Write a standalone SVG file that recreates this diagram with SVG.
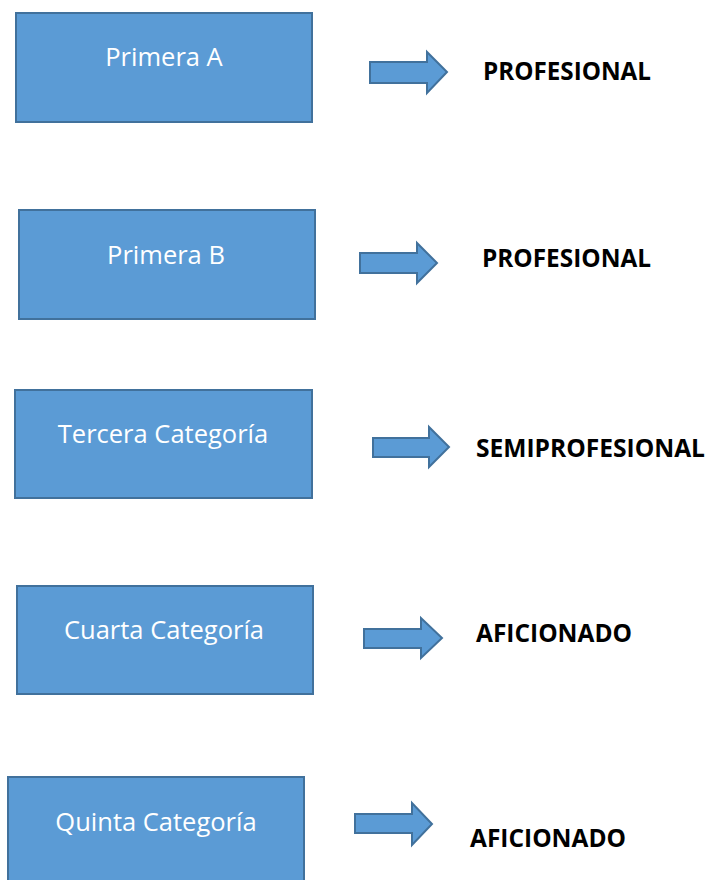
<svg xmlns="http://www.w3.org/2000/svg" width="711" height="880" viewBox="0 0 711 880">
<defs>
<style>
.box{fill:#5b9bd5;stroke:#41719c;stroke-width:2}
.arr{fill:#5b9bd5;stroke:#41719c;stroke-width:2;stroke-linejoin:miter}
.bt{font-family:"Open Sans","Liberation Sans",sans-serif;font-size:25.5px;fill:#ffffff;text-anchor:middle}
.lb{font-family:"Open Sans","Liberation Sans",sans-serif;font-size:24.5px;font-weight:bold;fill:#000000}
</style>
</defs>
<rect width="711" height="880" fill="#ffffff"/>
<g id="node-primera-a"><rect class="box" x="16" y="13" width="296" height="109"/><text class="bt" x="164" y="66">Primera A</text></g>
<g id="node-primera-b"><rect class="box" x="19" y="210" width="296" height="109"/><text class="bt" x="166" y="264">Primera B</text></g>
<g id="node-tercera"><rect class="box" x="15" y="390" width="297" height="108"/><text class="bt" x="163" y="443">Tercera Categoría</text></g>
<g id="node-cuarta"><rect class="box" x="17" y="586" width="296" height="108"/><text class="bt" x="164" y="639">Cuarta Categoría</text></g>
<g id="node-quinta"><rect class="box" x="8" y="777" width="296" height="110"/><text class="bt" x="156" y="831">Quinta Categoría</text></g>
<g id="connectors">
<polygon class="arr" points="370,62 427,62 427,52 447,72 427,93 427,83 370,83"/>
<polygon class="arr" points="360,253 417,253 417,243 437,263 417,283 417,273 360,273"/>
<polygon class="arr" points="373,438 429,438 429,427 449,447 429,467 429,457 373,457"/>
<polygon class="arr" points="364,629 421,629 421,618 442,638 421,658 421,648 364,648"/>
<polygon class="arr" points="355,814 412,814 412,803 432,824 412,845 412,833 355,833"/>
</g>
<g id="label-1"><text class="lb" x="483" y="80" textLength="168" lengthAdjust="spacingAndGlyphs">PROFESIONAL</text></g>
<g id="label-2"><text class="lb" x="482" y="267" textLength="169" lengthAdjust="spacingAndGlyphs">PROFESIONAL</text></g>
<g id="label-3"><text class="lb" x="476" y="457" textLength="229" lengthAdjust="spacingAndGlyphs">SEMIPROFESIONAL</text></g>
<g id="label-4"><text class="lb" x="476" y="642" textLength="156" lengthAdjust="spacingAndGlyphs">AFICIONADO</text></g>
<g id="label-5"><text class="lb" x="470" y="847" textLength="156" lengthAdjust="spacingAndGlyphs">AFICIONADO</text></g>
</svg>
